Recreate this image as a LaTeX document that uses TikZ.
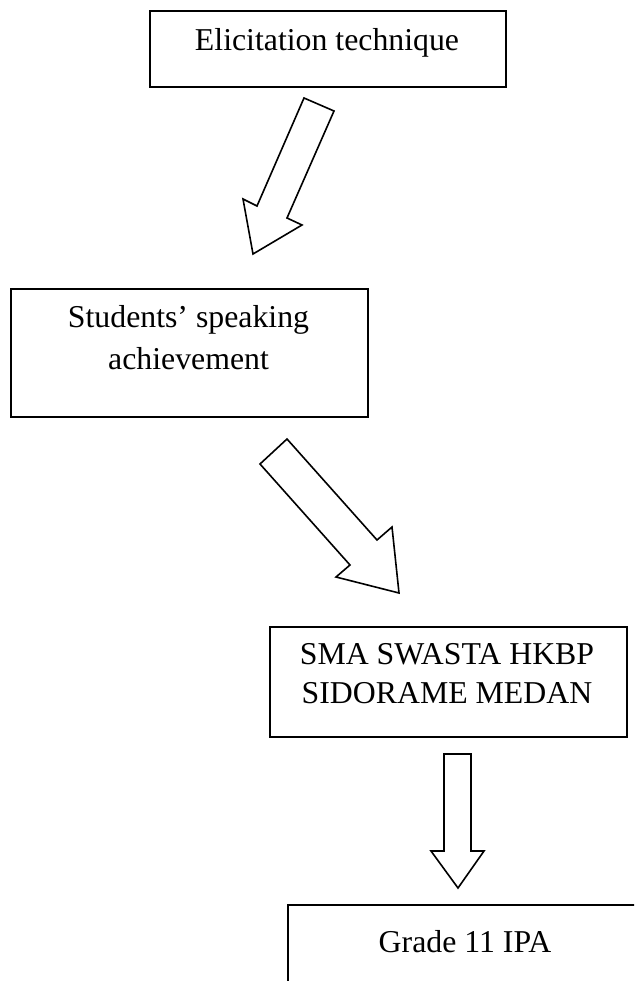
\documentclass[tikz,border=0pt]{standalone}
\usepackage{fontspec}
\setmainfont{Liberation Serif}
\begin{document}
\begin{tikzpicture}[x=1pt,y=-1pt,
  box/.style={draw=black, line width=1.9pt, rectangle, inner sep=0pt, anchor=north west},
  lab/.style={inner sep=0pt, align=center, anchor=base, font=\fontsize{31.8}{42}\selectfont},
  labb/.style={inner sep=0pt, align=center, anchor=base, font=\fontsize{31.8}{39}\selectfont},
  blockarrow/.style={draw=black, line width=1.6pt, line join=miter, fill=white}]
\useasboundingbox (0,0) rectangle (634,981);
\clip (0,0) rectangle (634,981);
% box 1
\node[box, minimum width=356pt, minimum height=76pt] (b1) at (149,10) {};
\node[lab] (t1) at (327,51) {Elicitation technique};
% arrow 1
\draw[blockarrow] (304,98) -- (334,111) -- (287,218) -- (302,225) -- (253,254) -- (243,199) -- (257,206) -- cycle;
% box 2
\node[box, minimum width=357pt, minimum height=128pt] (b2) at (10,288) {};
\node[lab] (t2) at (188.5,369) {Students’ speaking\\achievement};
% arrow 2
\draw[blockarrow] (287,439) -- (377,540) -- (392,527) -- (399,593) -- (336,577) -- (350,565) -- (260,464) -- cycle;
% box 3
\node[box, minimum width=357pt, minimum height=110pt] (b3) at (269,626) {};
\node[labb] (t3) at (447,703) {SMA SWASTA HKBP\\SIDORAME MEDAN};
% arrow 3
\draw[blockarrow] (444,754) -- (471,754) -- (471,851) -- (484,851) -- (458,888) -- (431,851) -- (444,851) -- cycle;
% box 4 (cut off by the page edge)
\node[box, minimum width=360pt, minimum height=120pt] (b4) at (287,904) {};
\node[lab] (t4) at (465,952) {Grade 11 IPA};
\end{tikzpicture}
\end{document}
